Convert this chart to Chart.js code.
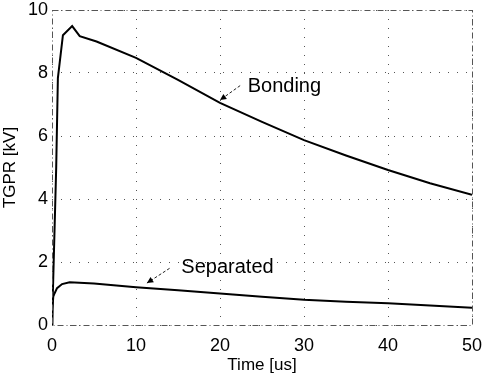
<!DOCTYPE html>
<html><head><meta charset="utf-8">
<script src="https://cdn.jsdelivr.net/npm/chart.js@4/dist/chart.umd.min.js"></script>
<style>html,body{margin:0;padding:0;background:#fff}#wrap{width:482px;height:376px}</style>
</head><body><div id="wrap"><canvas id="c" width="482" height="376"></canvas></div>
<script>
const bondingX = [0, 0.5, 0.7, 1.3, 2.4, 3.3, 5.3, 10, 15, 20, 25, 30, 35, 40, 45, 50];
const bondingY = [0, 5.0, 7.84, 9.2, 9.49, 9.17, 9.0, 8.48, 7.78, 7.05, 6.45, 5.87, 5.38, 4.92, 4.5, 4.13];
const separatedX = [0, 0.05, 0.15, 0.3, 0.6, 1.2, 2.1, 5.0, 10, 15, 20, 25, 30, 35, 40, 45, 50];
const separatedY = [0, 0.5, 0.9, 1.0, 1.17, 1.3, 1.36, 1.32, 1.2, 1.1, 1.0, 0.9, 0.8, 0.74, 0.69, 0.62, 0.55];
const xTicks = [0, 10, 20, 30, 40, 50];
const yTicks = [0, 2, 4, 6, 8, 10];
const labels = [
  {text: 'Bonding', x: 23.3, y: 7.56, ax: 22.4, ay: 7.6, tx: 20.0, ty: 7.14},
  {text: 'Separated', x: 15.4, y: 1.84, ax: 14.0, ay: 1.8, tx: 11.3, ty: 1.33}
];
const pts = (xs, ys) => xs.map((x, i) => ({x: x, y: ys[i]}));
const FONT = 'Liberation Sans, Arial, sans-serif';

const frame = {
  id: 'frame',
  afterDraw(chart) {
    const {ctx, chartArea: a, scales} = chart;
    ctx.save();
    ctx.strokeStyle = '#555';
    ctx.lineWidth = 1;
    ctx.setLineDash([6, 3, 1, 3]);
    ctx.strokeRect(a.left + 0.5, a.top + 0.5, a.right - a.left, a.bottom - a.top);
    ctx.setLineDash([]);
    ctx.font = '20px ' + FONT;
    ctx.fillStyle = '#000';
    ctx.textBaseline = 'middle';
    ctx.textAlign = 'left';
    for (const l of labels) {
      const px = scales.x.getPixelForValue(l.x), py = scales.y.getPixelForValue(l.y);
      ctx.fillText(l.text, px, py);
      const x1 = scales.x.getPixelForValue(l.ax), y1 = scales.y.getPixelForValue(l.ay);
      const x2 = scales.x.getPixelForValue(l.tx), y2 = scales.y.getPixelForValue(l.ty);
      ctx.strokeStyle = '#222';
      ctx.setLineDash([3, 2]);
      ctx.beginPath(); ctx.moveTo(x1, y1); ctx.lineTo(x2, y2); ctx.stroke();
      ctx.setLineDash([]);
      const ang = Math.atan2(y2 - y1, x2 - x1), L = 7;
      ctx.beginPath();
      ctx.moveTo(x2, y2);
      ctx.lineTo(x2 - L * Math.cos(ang - 0.45), y2 - L * Math.sin(ang - 0.45));
      ctx.lineTo(x2 - L * Math.cos(ang + 0.45), y2 - L * Math.sin(ang + 0.45));
      ctx.closePath();
      ctx.fillStyle = '#000';
      ctx.fill();
    }
    ctx.restore();
  }
};

const zeroPad = s => { s.paddingLeft = 0; s.paddingRight = 0; s.paddingTop = 0; s.paddingBottom = 0; };

new Chart(document.getElementById('c'), {
  type: 'line',
  data: {
    datasets: [
      {label: 'Bonding', data: pts(bondingX, bondingY), borderColor: '#000', borderWidth: 2, pointRadius: 0, tension: 0, fill: false},
      {label: 'Separated', data: pts(separatedX, separatedY), borderColor: '#000', borderWidth: 2, pointRadius: 0, tension: 0, fill: false}
    ]
  },
  options: {
    responsive: false,
    animation: false,
    layout: {padding: {top: 10, right: 10, left: 0, bottom: 0}},
    plugins: {legend: {display: false}, tooltip: {enabled: false}},
    scales: {
      x: {
        type: 'linear', min: 0, max: 50,
        afterBuildTicks: s => { s.ticks = xTicks.map(v => ({value: v})); },
        afterFit: s => { s.height = 51; zeroPad(s); },
        grid: {color: '#555', lineWidth: 1, drawTicks: false},
        border: {display: false, dash: [1, 8]},
        ticks: {color: '#000', font: {family: FONT, size: 18}, padding: 10, maxRotation: 0},
        title: {display: true, text: 'Time [us]', color: '#000', font: {family: FONT, size: 17}, padding: {top: 0, bottom: 0}}
      },
      y: {
        min: 0, max: 10,
        afterBuildTicks: s => { s.ticks = yTicks.map(v => ({value: v})); },
        afterFit: s => { s.width = 52; zeroPad(s); },
        grid: {color: '#555', lineWidth: 1, drawTicks: false},
        border: {display: false, dash: [1, 8]},
        ticks: {color: '#000', font: {family: FONT, size: 18}, padding: 4},
        title: {display: true, text: 'TGPR [kV]', color: '#000', font: {family: FONT, size: 17}, padding: {top: 0, bottom: 0}}
      }
    }
  },
  plugins: [frame]
});
</script></body></html>
